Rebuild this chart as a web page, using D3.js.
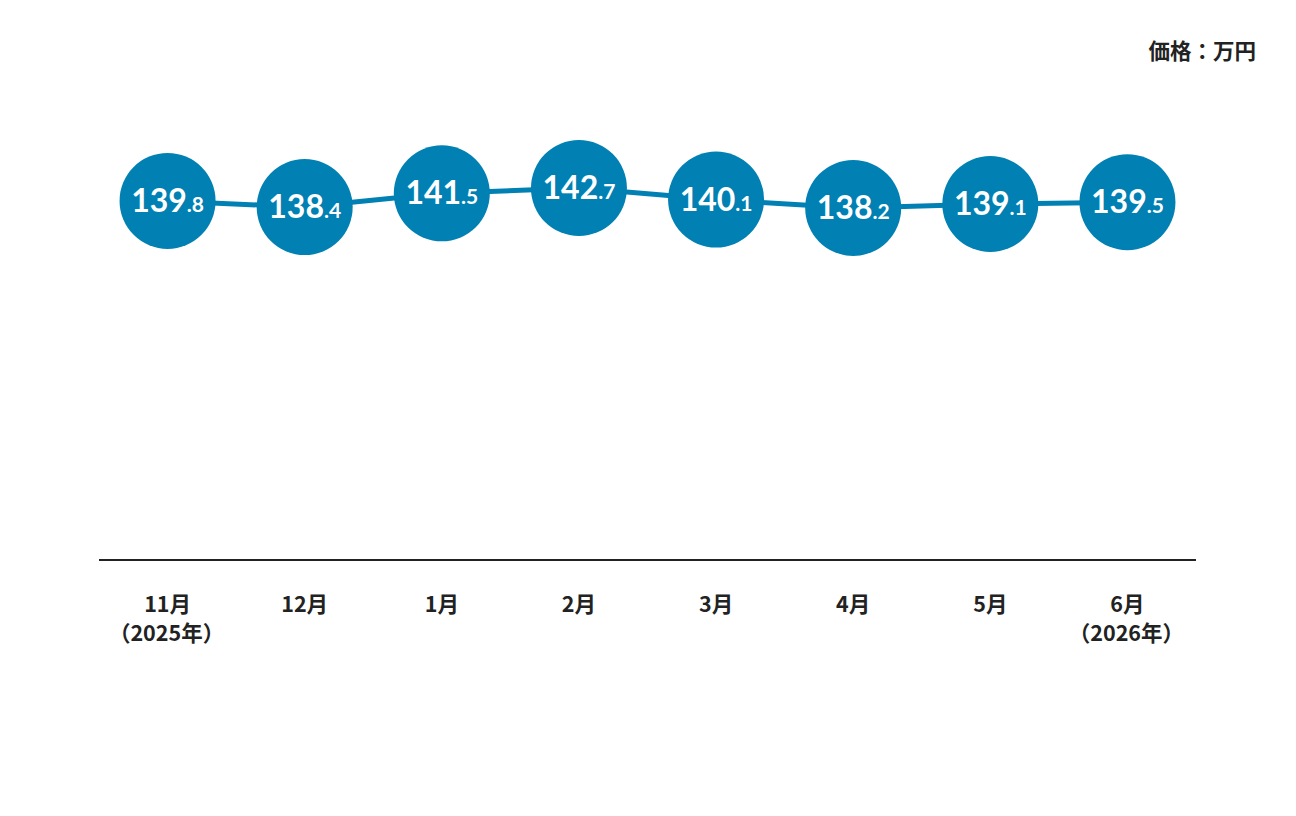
<!DOCTYPE html>
<html>
<head>
<meta charset="utf-8">
<script src="https://cdn.jsdelivr.net/npm/d3@7"></script>
<style>
  body { margin: 0; background: #fff; }
  svg { display: block; }
  .month { font-family: "Noto Sans CJK JP", sans-serif; font-weight: 700; font-size: 21.5px; fill: #222; }
  .unit { font-family: "Noto Sans CJK JP", sans-serif; font-weight: 700; font-size: 21.5px; fill: #222; }
  .val { font-family: "Lato", sans-serif; font-weight: 700; fill: #fff; }
</style>
</head>
<body>
<div id="chart"></div>
<script>
// month labels, line 1 and optional line 2
const months = ["11月", "12月", "1月", "2月", "3月", "4月", "5月", "6月"];
const years = ["（2025年）", "", "", "", "", "", "", "（2026年）"];
const prices = [139.8, 138.4, 141.5, 142.7, 140.1, 138.2, 139.1, 139.5];

const width = 1296;
const height = 816;
const margin = { left: 99, right: 100 };
const axisY = 560;
const blue = "#0080b3";

const svg = d3.select("#chart")
  .append("svg")
  .attr("width", width)
  .attr("height", height);

const x = d3.scaleBand()
  .domain(months)
  .range([margin.left, width - margin.right])
  .padding(0);

const y = d3.scaleLinear()
  .domain([130, 150])
  .range([244.4, 155.6]);

const cx = (d, i) => x(months[i]) + x.bandwidth() / 2;

// unit label
svg.append("text")
  .attr("class", "unit")
  .attr("x", 1256)
  .attr("y", 59)
  .attr("text-anchor", "end")
  .text("価格：万円");

// baseline
svg.append("line")
  .attr("x1", margin.left)
  .attr("x2", width - margin.right)
  .attr("y1", axisY)
  .attr("y2", axisY)
  .attr("stroke", "#222")
  .attr("stroke-width", 2);

// month labels
const lab = svg.append("g")
  .selectAll("text")
  .data(months)
  .join("text")
    .attr("class", "month")
    .attr("text-anchor", "middle")
    .attr("x", d => x(d) + x.bandwidth() / 2)
    .attr("y", 612);

lab.append("tspan")
  .attr("x", d => x(d) + x.bandwidth() / 2)
  .text(d => d);

lab.append("tspan")
  .attr("x", (d, i) => x(d) + x.bandwidth() / 2 - 1)
  .attr("dy", 29)
  .text((d, i) => years[i]);

// line
const line = d3.line()
  .x(cx)
  .y(d => y(d));

svg.append("path")
  .datum(prices)
  .attr("fill", "none")
  .attr("stroke", blue)
  .attr("stroke-width", 5)
  .attr("d", line);

// bubbles
const g = svg.append("g")
  .selectAll("g")
  .data(prices)
  .join("g")
    .attr("transform", (d, i) => `translate(${cx(d, i)}, ${y(d)})`);

g.append("circle")
  .attr("r", 48)
  .attr("fill", blue);

const t = g.append("text")
  .attr("class", "val")
  .attr("text-anchor", "middle")
  .attr("y", 11);

t.append("tspan")
  .attr("font-size", 32)
  .text(d => Math.floor(d));

t.append("tspan")
  .attr("font-size", 21)
  .text(d => "." + Math.round((d % 1) * 10));
</script>
</body>
</html>
